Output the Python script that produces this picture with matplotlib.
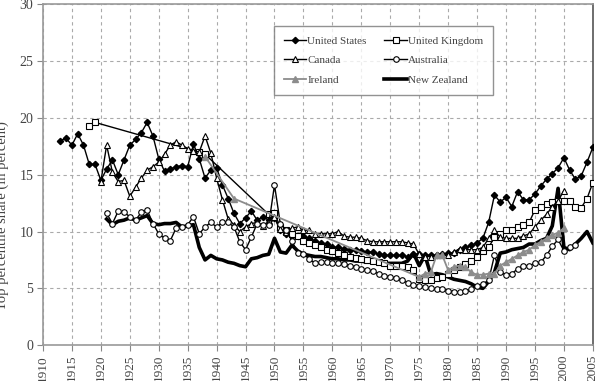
import matplotlib
matplotlib.use("Agg")
import matplotlib.pyplot as plt

plt.rcParams['font.family'] = ['Liberation Serif', 'DejaVu Serif']

# --- data (top 1 percent income share, in percent) ---
us_years = list(range(1913, 2006))
us_share = [18.0, 18.2, 17.6, 18.6, 17.6, 15.9, 15.9, 14.5, 15.5, 16.3,
            15.0, 16.3, 17.6, 18.1, 18.7, 19.6, 18.4, 16.4, 15.3, 15.5,
            15.7, 15.8, 15.7, 17.7, 16.4, 14.7, 15.4, 15.6, 14.1, 12.9,
            11.6, 10.7, 11.2, 11.8, 11.0, 11.3, 11.0, 11.2, 10.1, 9.8,
            9.6, 9.6, 9.6, 9.4, 9.2, 9.0, 8.9, 8.6, 8.6, 8.5,
            8.4, 8.4, 8.3, 8.2, 8.2, 8.0, 7.9, 7.9, 7.9, 7.9,
            7.8, 8.0, 8.0, 7.9, 7.9, 7.9, 8.0, 8.1, 8.1, 8.4,
            8.6, 8.8, 9.0, 9.4, 10.8, 13.2, 12.6, 13.0, 12.2, 13.5,
            12.8, 12.8, 13.3, 14.0, 14.6, 15.1, 15.6, 16.5, 15.4, 14.6,
            14.9, 16.1, 17.4]

uk_years = [1918, 1919, 1937, 1938] + list(range(1949, 2006))
uk_share = [19.3, 19.6, 17.0, 16.8,
            11.5, 11.6, 10.4, 10.1, 9.8, 9.6, 9.2, 9.0, 8.8, 8.6,
            8.4, 8.3, 8.1, 7.9, 7.8, 7.7, 7.6, 7.5, 7.4, 7.3,
            7.2, 7.0, 7.0, 7.0, 6.9, 6.6, 5.8, 5.7, 5.7, 5.9,
            6.0, 6.3, 6.6, 6.9, 7.1, 7.4, 7.8, 8.3, 8.6, 9.5,
            9.8, 10.1, 10.1, 10.4, 10.6, 10.8, 11.9, 12.2, 12.4, 12.6,
            12.7, 12.7, 12.7, 12.2, 12.1, 12.9, 14.3]

canada_years = list(range(1920, 2001))
canada_share = [14.4, 17.6, 15.2, 14.4, 14.5, 13.1, 13.9, 14.7, 15.4, 15.7,
                16.1, 16.8, 17.6, 17.9, 17.6, 17.3, 17.1, 17.0, 18.4, 16.9,
                14.7, 12.8, 11.1, 10.6, 10.0, 10.4, 10.7, 10.8, 10.5, 10.9,
                11.3, 10.2, 10.0, 10.3, 10.4, 10.1, 10.1, 9.8, 9.8, 9.8,
                9.8, 10.0, 9.6, 9.5, 9.5, 9.4, 9.2, 9.1, 9.1, 9.1,
                9.1, 9.1, 9.1, 9.0, 8.9, 8.0, 7.8, 7.8, 7.9, 7.9,
                7.9, 8.2, 8.5, 8.4, 8.4, 8.4, 8.6, 9.4, 10.1, 9.5,
                9.4, 9.4, 9.4, 9.6, 9.8, 10.4, 11.0, 11.5, 12.2, 12.7,
                13.6]

aus_years = list(range(1921, 2003))
aus_share = [11.6, 10.7, 11.8, 11.7, 11.3, 11.0, 11.7, 11.9, 10.7, 9.8,
             9.4, 9.2, 10.3, 10.4, 10.6, 11.3, 9.8, 10.4, 10.8, 10.4,
             10.8, 10.8, 10.4, 9.1, 8.4, 9.5, 10.7, 10.6, 10.6, 14.1,
             10.7, 10.1, 9.2, 8.1, 8.0, 7.6, 7.2, 7.3, 7.3, 7.2,
             7.2, 7.1, 7.0, 6.9, 6.7, 6.6, 6.5, 6.3, 6.1, 6.0,
             5.9, 5.7, 5.5, 5.3, 5.2, 5.1, 5.0, 4.9, 4.9, 4.8,
             4.7, 4.7, 4.8, 4.9, 5.2, 5.4, 5.7, 7.9, 6.4, 6.2,
             6.3, 6.7, 7.0, 7.0, 7.2, 7.3, 7.9, 8.7, 9.3, 8.3,
             8.6, 8.8]

ireland_years = [1938, 1943] + list(range(1975, 2001))
ireland_share = [16.6, 12.9,
                 6.0, 6.3, 6.4, 7.9, 7.9, 6.6, 6.9, 7.0, 6.9, 6.4,
                 6.2, 6.2, 6.3, 6.3, 7.0, 7.3, 7.6, 7.9, 8.2, 8.4,
                 8.8, 9.1, 9.4, 9.7, 9.9, 10.3]

nz_years = list(range(1921, 2006))
nz_share = [11.1, 10.6, 10.9, 11.0, 11.2, 11.0, 11.2, 11.4, 10.7, 10.6,
            10.7, 10.7, 10.8, 10.4, 10.5, 10.6, 8.6, 7.5, 7.9, 7.6,
            7.5, 7.3, 7.2, 7.0, 6.9, 7.6, 7.7, 7.9, 8.0, 9.4,
            8.2, 8.1, 8.8, 8.3, 8.0, 7.9, 7.8, 7.8, 7.7, 7.6,
            7.6, 7.5, 7.5, 7.4, 7.4, 7.3, 7.3, 7.3, 7.2, 7.2,
            7.2, 7.2, 7.4, 8.1, 7.0, 7.9, 6.2, 6.3, 6.2, 6.0,
            5.8, 5.7, 5.6, 5.4, 5.1, 5.0, 5.6, 6.4, 8.1, 8.2,
            8.4, 8.5, 8.6, 8.9, 8.9, 9.2, 9.4, 10.5, 13.8, 8.6,
            8.4, 8.9, 9.4, 10.0, 9.0]

year_ticks = list(range(1910, 2006, 5))
share_ticks = [0, 5, 10, 15, 20, 25, 30]

# --- plot ---
fig = plt.figure(figsize=(5.97, 3.81), dpi=100)
ax = fig.add_axes([0.072, 0.094, 0.921, 0.895])

ax.plot(nz_years, nz_share, color='black', lw=2.6, label='New Zealand', zorder=3)
ax.plot(us_years, us_share, color='black', lw=1.0, marker='D', ms=3.2,
        mfc='black', mec='black', label='United States', zorder=4)
ax.plot(uk_years, uk_share, color='black', lw=1.0, marker='s', ms=3.8,
        mfc='white', mec='black', mew=0.8, label='United Kingdom', zorder=4)
ax.plot(canada_years, canada_share, color='black', lw=1.0, marker='^', ms=4.2,
        mfc='white', mec='black', mew=0.8, label='Canada', zorder=4)
ax.plot(aus_years, aus_share, color='black', lw=1.0, marker='o', ms=4.0,
        mfc='white', mec='black', mew=0.8, label='Australia', zorder=4)
ax.plot(ireland_years, ireland_share, color='#8c8c8c', lw=1.3, marker='^', ms=4.2,
        mfc='#8c8c8c', mec='#8c8c8c', label='Ireland', zorder=4)

ax.set_xlim(1910, 2005)
ax.set_ylim(0, 30)
ax.set_xticks(year_ticks)
ax.set_xticklabels([str(y) for y in year_ticks], rotation=90, fontsize=9.5, color='#444444')
ax.set_yticks(share_ticks)
ax.set_yticklabels([str(v) for v in share_ticks], fontsize=10, color='#444444')
ax.tick_params(axis='both', length=4, width=0.8, color='#888888', pad=3)
ax.grid(True, color='#aaaaaa', linestyle=(0, (3, 3)), linewidth=0.8)
ax.set_axisbelow(True)
for side in ['left', 'bottom', 'top']:
    ax.spines[side].set_color('#999999')
    ax.spines[side].set_linewidth(1.2)
ax.spines['right'].set_color('#555555')
ax.spines['right'].set_linewidth(1.2)

fig.text(0.003, 0.435, 'Top percentile share (in percent)', rotation=90,
         ha='center', va='center', fontsize=10.5, color='#444444')

# legend: rows US/UK, Canada/Australia, Ireland/New Zealand
handles, labels = ax.get_legend_handles_labels()
hmap = dict(zip(labels, handles))
order = ['United States', 'Canada', 'Ireland', 'United Kingdom', 'Australia', 'New Zealand']
leg = ax.legend([hmap[k] for k in order], order, ncol=2, loc='upper left',
                bbox_to_anchor=(0.42, 0.935), fontsize=8, frameon=True,
                fancybox=False, edgecolor='#777777', handlelength=2.0,
                handletextpad=0.1, columnspacing=1.6, labelspacing=0.85,
                borderpad=0.9, borderaxespad=0)
leg.get_frame().set_linewidth(1.0)
for t in leg.get_texts():
    t.set_color('#444444')

fig.savefig('out.png', dpi=100)
